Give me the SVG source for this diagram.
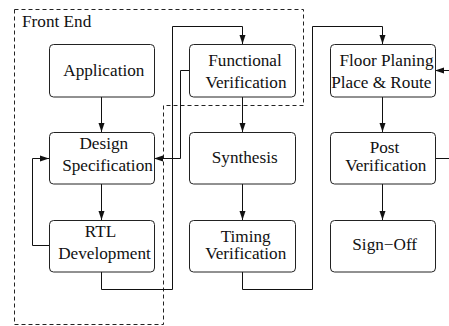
<svg xmlns="http://www.w3.org/2000/svg" width="449" height="326" viewBox="0 0 449 326">
<style>
.box{fill:#fff;stroke:#222;stroke-width:1}
.lbl{font-family:'Liberation Serif','Times New Roman',serif;font-size:17.2px;fill:#111;text-anchor:middle}
.con{fill:none;stroke:#111;stroke-width:1}
.arr{marker-end:url(#ah)}
.dash{fill:none;stroke:#222;stroke-width:1;stroke-dasharray:4 3}
</style>
<defs>
<marker id="ah" markerWidth="9" markerHeight="7" refX="9" refY="3.5" orient="auto" markerUnits="userSpaceOnUse">
<path d="M0,0.5 L9,3.5 L0,6.5 Z" fill="#111"/>
</marker>
</defs>
<rect width="449" height="326" fill="#fff"/>
<g id="front-end">
<path class="dash" d="M14.5,9.5 H303.5 V105.5 H163.5 V324.5 H14.5 Z"/>
<text class="lbl" x="22" y="27" style="text-anchor:start">Front End</text>
</g>
<g id="connectors">
<path class="con arr" d="M101.5,97 V132"/>
<path class="con arr" d="M101.5,184 V220"/>
<path class="con arr" d="M49,245.5 H32.5 V158.5 H49"/>
<path class="con arr" d="M101.5,272 V289.5 H172.5 V26.5 H242.5 V44"/>
<path class="con arr" d="M189,70.5 H180.5 V158.5 H154"/>
<path class="con arr" d="M242.5,97 V132"/>
<path class="con arr" d="M242.5,184 V220"/>
<path class="con arr" d="M242.5,272 V289.5 H312.5 V26.5 H382.5 V44"/>
<path class="con arr" d="M382.5,97 V132"/>
<path class="con arr" d="M382.5,184 V220"/>
<path class="con" d="M435,158.5 H449"/>
<path class="con arr" d="M449,70.5 H435"/>
</g>
<g id="application">
<rect class="box" x="49.5" y="44.5" width="105" height="52.5" rx="4"/>
<text class="lbl" x="103.8" y="76">Application</text>
</g>
<g id="design-specification">
<rect class="box" x="49.5" y="132.5" width="105" height="51.5" rx="4"/>
<text class="lbl" x="103.8" y="149">Design</text>
<text class="lbl" x="107.5" y="171">Specification</text>
</g>
<g id="rtl-development">
<rect class="box" x="49.5" y="220.5" width="105" height="51.5" rx="4"/>
<text class="lbl" x="100.5" y="237">RTL</text>
<text class="lbl" x="104.5" y="258.5">Development</text>
</g>
<g id="functional-verification">
<rect class="box" x="189.5" y="44.5" width="106" height="52.5" rx="4"/>
<text class="lbl" x="245" y="65.7">Functional</text>
<text class="lbl" x="246" y="87.7">Verification</text>
</g>
<g id="synthesis">
<rect class="box" x="189.5" y="132.5" width="106" height="51.5" rx="4"/>
<text class="lbl" x="244.7" y="162.5">Synthesis</text>
</g>
<g id="timing-verification">
<rect class="box" x="189.5" y="220.5" width="106" height="51.5" rx="4"/>
<text class="lbl" x="245.7" y="241.5">Timing</text>
<text class="lbl" x="245.7" y="259.2">Verification</text>
</g>
<g id="floor-planing">
<rect class="box" x="330.5" y="44.5" width="105" height="52.5" rx="4"/>
<text class="lbl" x="386.5" y="65.7">Floor Planing</text>
<text class="lbl" x="381.3" y="87.7">Place &amp; Route</text>
</g>
<g id="post-verification">
<rect class="box" x="330.5" y="132.5" width="105" height="51.5" rx="4"/>
<text class="lbl" x="384.5" y="153.3">Post</text>
<text class="lbl" x="385.8" y="171">Verification</text>
</g>
<g id="sign-off">
<rect class="box" x="330.5" y="220.5" width="105" height="51.5" rx="4"/>
<text class="lbl" x="384.7" y="250">Sign−Off</text>
</g>
</svg>
